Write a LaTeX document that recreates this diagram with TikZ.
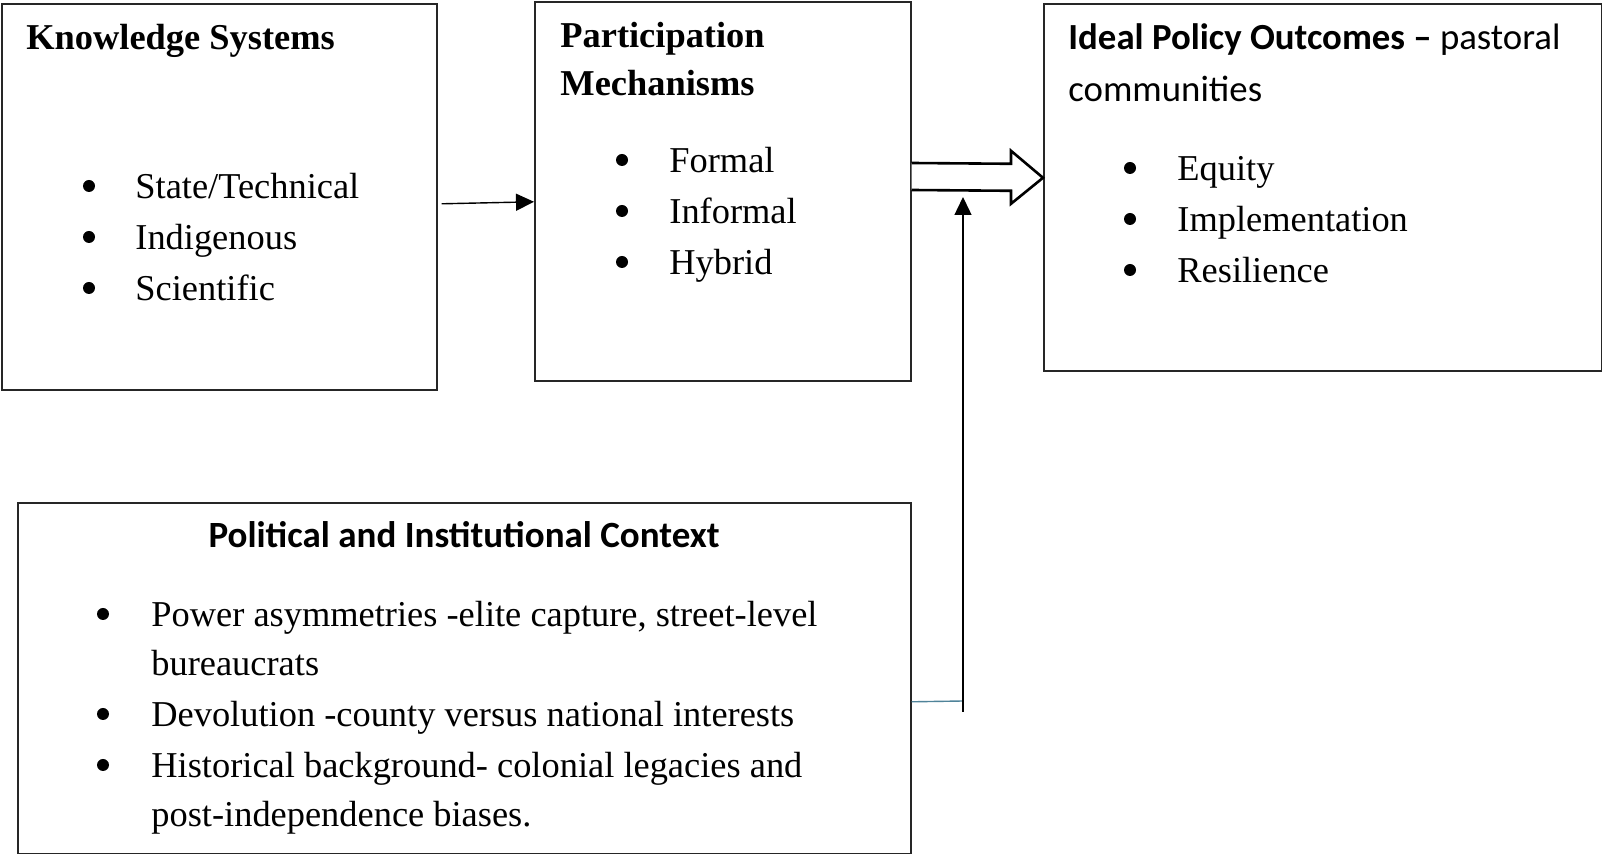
\documentclass[tikz,border=0pt]{standalone}
\usepackage{fontspec}
\setmainfont{Liberation Serif}
\newfontfamily\calibri{Carlito}
\usetikzlibrary{arrows.meta,positioning,calc}
\definecolor{linkblue}{HTML}{4F8399}

\begin{document}
\begin{tikzpicture}[x=0.5pt,y=-0.5pt,
  box/.style={draw=black!85,line width=0.8pt,anchor=north west,inner sep=0pt},
  txt/.style={anchor=base west,inner sep=0pt,font=\fontsize{18.2}{25}\selectfont},
  head/.style={txt,font=\fontsize{18.2}{25}\selectfont\bfseries},
  dot/.style={circle,fill=black,inner sep=0pt,minimum size=6pt},
  link/.style={line width=0.7pt,-{Triangle[length=9pt,width=8.5pt]}}]
  \useasboundingbox (0,0) rectangle (1602,854);

  % boxes
  \node[box,minimum width=217.5pt,minimum height=193pt] (know) at (1,3) {};
  \node[box,minimum width=188pt,minimum height=189.5pt] (mech) at (534,1) {};
  \node[box,minimum width=279pt,minimum height=183.5pt] (ideal) at (1043,3) {};
  \node[box,minimum width=446.5pt,minimum height=175.5pt] (polit) at (17,502) {};

  % knowledge systems
  \node[head] (knowhead) at (26,50) {Knowledge Systems};
  \foreach \t [count=\i] in {{State/Technical},Indigenous,Scientific}{
    \node[dot] at (89,{135+51*\i}) {};
    \node[txt] at (135,{148+51*\i}) {\t};
  }

  % participation mechanisms
  \node[head] (mechhead) at (560,48) {Participation};
  \node[head] (mechhead2) at (560,96) {Mechanisms};
  \foreach \t [count=\i] in {Formal,Informal,Hybrid}{
    \node[dot] at (622,{109+51*\i}) {};
    \node[txt] at (669,{122+51*\i}) {\t};
  }

  % ideal policy outcomes
  \node[txt,font=\fontsize{18.4}{25}\calibri] (idealhead) at (1068,50)
    {\textbf{Ideal Policy Outcomes –} pastoral};
  \node[txt,font=\fontsize{18.4}{25}\calibri] (idealhead2) at (1068,102) {communities};
  \foreach \t [count=\i] in {Equity,Implementation,Resilience}{
    \node[dot] at (1130,{117+51*\i}) {};
    \node[txt] at (1177,{130+51*\i}) {\t};
  }

  % political and institutional context
  \node[anchor=base,inner sep=0pt,font=\fontsize{18.5}{25}\calibri\bfseries] (polithead)
    at (464,548) {Political and Institutional Context};
  \foreach \y in {627,727,778} \node[dot] at (103,\y-13) {};
  \node[txt] at (151,627) {Power asymmetries -elite capture, street-level};
  \node[txt] at (151,676) {bureaucrats};
  \node[txt] at (151,727) {Devolution -county versus national interests};
  \node[txt] at (151,778) {Historical background- colonial legacies and};
  \node[txt] at (151,827) {post-independence biases.};

  % connectors
  \draw[link] ([shift={(4,7)}]know.east) -- ([shift={(0,10.5)}]mech.west);

  \coordinate (tip) at ([yshift=4.75pt]ideal.west);
  \draw[line width=1.3pt,fill=white,line join=miter]
    (mech.east |- 0,163) -- ($(tip)+(-32,-14)$) -- ($(tip)+(-32,-27)$) -- (tip)
    -- ($(tip)+(-32,26)$) -- ($(tip)+(-32,13)$) -- (mech.east |- 0,190);

  \coordinate (rise) at (963,712);
  \coordinate (risetop) at (963,197);
  \draw[linkblue,line width=0.7pt] ([yshift=-11.75pt]polit.east) -- (rise |- 0,701);
  \draw[link] (rise) -- (risetop);
\end{tikzpicture}
\end{document}
